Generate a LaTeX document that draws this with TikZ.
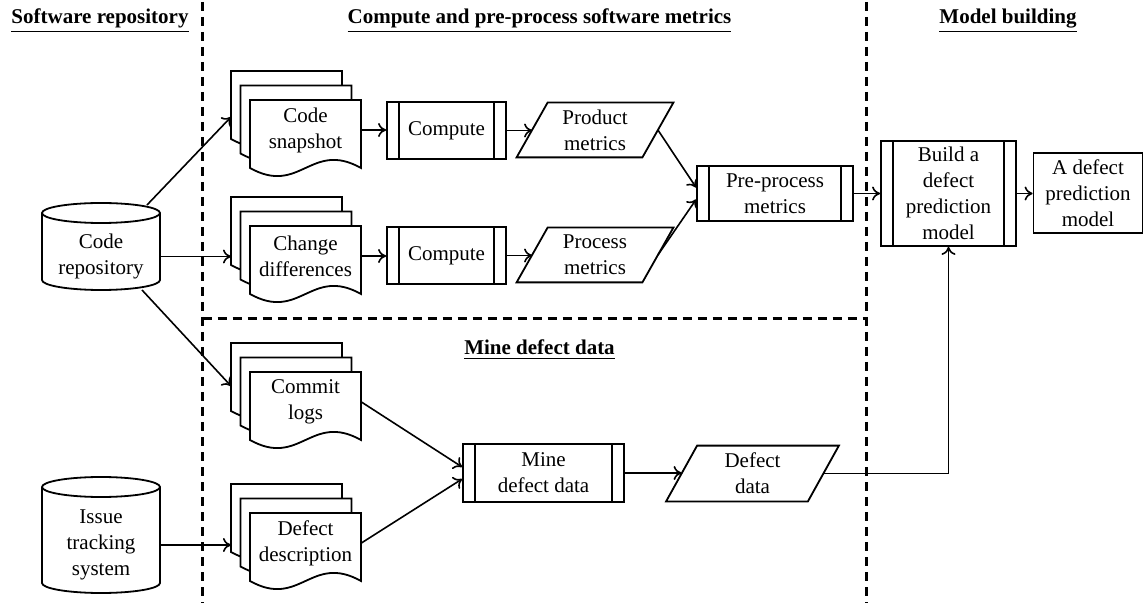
\documentclass[tikz,border=0pt]{standalone}
\usepackage{fontspec}
\setmainfont{Liberation Serif}
\usetikzlibrary{arrows.meta}
\newcommand{\docsheet}[2]{%
  \begin{scope}[shift={(#1,#2)}]
    \draw[shapeline,fill=white] (0,0) -- (111,0) -- (111,68) .. controls (61,40) and (50,96) .. (0,68) -- cycle;
  \end{scope}}
\newcommand{\docstack}[4]{% name, front left x, front top y, text
  \docsheet{#2-19}{#3-29}
  \docsheet{#2-9.5}{#3-14.5}
  \docsheet{#2}{#3}
  \node[txt, minimum width=55.5pt, minimum height=27pt] (#1) at (#2+55.5,#3+30) {#4};}
\newcommand{\cyl}[3]{% left x, top y, bottom y
  \draw[shapeline,fill=white] (#1,#2+10) -- (#1,#3-10)
     arc[start angle=180,end angle=0,x radius=59,y radius=10]
     -- (#1+118,#2+10)
     arc[start angle=0,end angle=-180,x radius=59,y radius=10] -- cycle;
  \draw[shapeline] (#1,#2+10) arc[start angle=180,end angle=0,x radius=59,y radius=10];}
\newcommand{\parabox}[6]{% name, cx, cy, width, height, text
  \node[txt, minimum width=#4, minimum height=#5] (#1) at (#2,#3) {#6};
  \draw[shapeline] ([xshift=-7.75pt]#1.south west) -- ([xshift=7.75pt]#1.north west)
     -- ([xshift=7.75pt]#1.north east) -- ([xshift=-7.75pt]#1.south east) -- cycle;}
\begin{document}
\begin{tikzpicture}[x=0.5pt,y=-0.5pt,
  font=\fontsize{10.5pt}{13pt}\selectfont,
  shapeline/.style={line width=0.9pt},
  txt/.style={inner sep=0pt, align=center},
  conn/.style={-{To[length=4pt,width=7pt]}, line width=0.8pt},
  sep/.style={line width=1.3pt, dash pattern=on 4.5pt off 3pt},
  head/.style={inner sep=0pt, font=\fontsize{10.5pt}{13pt}\selectfont\bfseries},
  plainbox/.style={txt, draw, line width=0.9pt},
  procbox/.style={txt, draw, line width=0.9pt,
    path picture={\draw[line width=0.9pt]
      ([xshift=6pt]path picture bounding box.north west) -- ([xshift=6pt]path picture bounding box.south west)
      ([xshift=-6pt]path picture bounding box.north east) -- ([xshift=-6pt]path picture bounding box.south east);}}
]
\useasboundingbox (0,0) rectangle (1144,603);

% separators
\draw[sep] (202.5,2) -- (202.5,603);
\draw[sep] (866.5,2) -- (866.5,603);
\draw[sep] (202.5,318.5) -- (866.5,318.5);

% headings
\node[head, anchor=base] (h1) at (100,24) {\underline{Software repository}};
\node[head, anchor=base] (h2) at (539.5,24) {\underline{Compute and pre-process software metrics}};
\node[head, anchor=base] (h3) at (1008,24) {\underline{Model building}};
\node[head, anchor=base] (h4) at (539.5,355) {\underline{Mine defect data}};

% repositories
\cyl{42}{203}{290}
\node[txt, minimum width=59pt, minimum height=33.5pt] (repo) at (101,256.5) {Code\\repository};
\cyl{42}{477}{593}
\node[txt, minimum width=59pt, minimum height=48pt] (issue) at (101,545) {Issue\\tracking\\system};
\coordinate (repo-top) at (147,205);
\coordinate (repo-bot) at (142,290);

% document stacks
\docstack{snap}{250}{100}{Code\\snapshot}
\docstack{chg}{250}{226}{Change\\differences}
\docstack{logs}{250}{372}{Commit\\logs}
\docstack{desc}{250}{513}{Defect\\description}
\coordinate (snap-in) at (231,117);
\coordinate (chg-in) at (231,256);
\coordinate (logs-in) at (231,386);
\coordinate (desc-in) at (231,545);

% processes
\node[procbox, minimum width=59.5pt, minimum height=28.5pt] (comp1) at (446.5,130.5) {Compute};
\node[procbox, minimum width=59.5pt, minimum height=28.5pt] (comp2) at (446.5,255.5) {Compute};
\node[procbox, minimum width=78pt, minimum height=27.5pt] (pre) at (775,193.5) {Pre-process\\metrics};
\node[procbox, minimum width=67.5pt, minimum height=52.5pt] (build) at (948.5,193.5) {Build a\\defect\\prediction\\model};
\node[plainbox, minimum width=54.5pt, minimum height=40pt] (final) at (1088,193) {A defect\\prediction\\model};
\node[procbox, minimum width=80.5pt, minimum height=29pt] (mine) at (543.5,473) {Mine\\defect data};

% data
\parabox{prod}{595}{130}{62.5pt}{27pt}{Product\\metrics}
\parabox{proc}{595}{255}{62.5pt}{27pt}{Process\\metrics}
\parabox{dd}{752.5}{473.5}{70.5pt}{27.5pt}{Defect\\data}

% connectors
\draw[conn] (repo-top) -- (snap-in);
\draw[conn] (repo.east) -- (repo.east -| chg-in);
\draw[conn] (repo-bot) -- (logs-in);
\draw[conn] (issue.east) -- (issue.east -| desc-in);
\draw[conn] (snap.east) -- (snap.east -| comp1.west);
\draw[conn] (comp1.east) -- (comp1.east -| prod.west);
\draw[conn] (chg.east) -- (chg.east -| comp2.west);
\draw[conn] (comp2.east) -- (comp2.east -| proc.west);
\draw[conn] (prod.east) -- ([yshift=3pt]pre.west);
\draw[conn] (proc.east) -- ([yshift=-3pt]pre.west);
\draw[conn] (pre.east) -- (pre.east -| build.west);
\draw[conn] (build.east) -- (build.east -| final.west);
\draw[conn] (logs.east) -- ([yshift=3pt]mine.west);
\draw[conn] (desc.east) -- ([yshift=-3pt]mine.west);
\draw[conn] (mine.east) -- (mine.east -| dd.west);
\draw[conn] (dd.east) -| (build.south);
\end{tikzpicture}
\end{document}
